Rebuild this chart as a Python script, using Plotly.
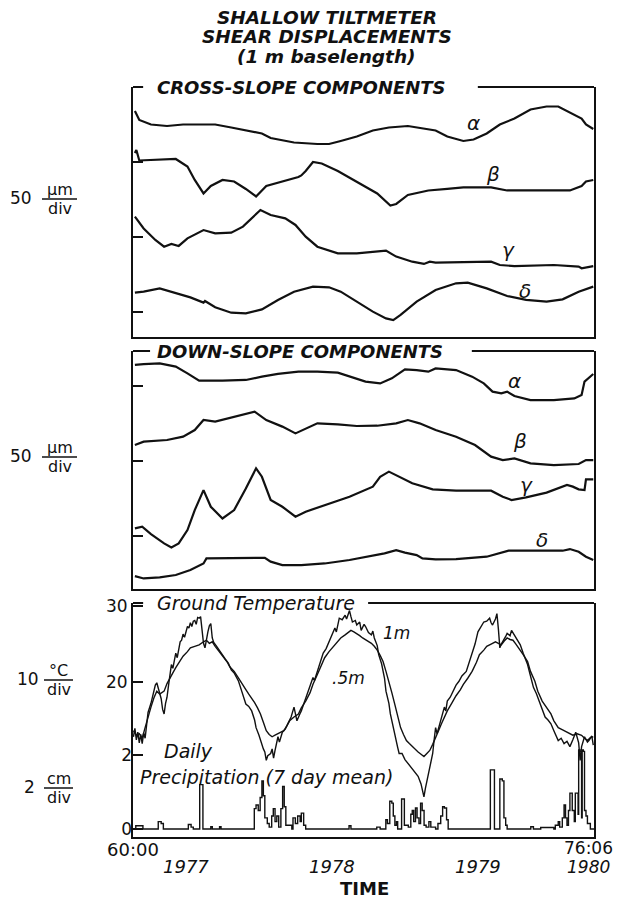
import plotly.graph_objects as go

# ---------------- data ----------------
T_START, T_END = 1976.637, 1979.795

# Cross-slope components (um, offset traces)
cs_alpha_t = [1976.65, 1976.68, 1976.76, 1976.87, 1976.98, 1977.09, 1977.20, 1977.31, 1977.41, 1977.52, 1977.58, 1977.63, 1977.74, 1977.90, 1977.98, 1978.06, 1978.17, 1978.28, 1978.39, 1978.52, 1978.66, 1978.71, 1978.79, 1978.90, 1978.97, 1979.06, 1979.15, 1979.25, 1979.36, 1979.47, 1979.55, 1979.63, 1979.71, 1979.74, 1979.79]
cs_alpha_v = [134, 128, 125, 124, 125, 125, 125, 123, 121, 119, 116, 115, 113, 112, 112, 114, 117, 121, 123, 124, 122, 121, 117, 114, 115, 119, 125, 129, 135, 137, 137, 133, 129, 125, 122]

cs_beta_t = [1976.65, 1976.66, 1976.68, 1976.93, 1977.01, 1977.06, 1977.12, 1977.17, 1977.25, 1977.33, 1977.41, 1977.48, 1977.55, 1977.63, 1977.77, 1977.79, 1977.82, 1977.87, 1977.93, 1978.04, 1978.17, 1978.31, 1978.40, 1978.44, 1978.52, 1978.66, 1978.79, 1978.90, 1979.09, 1979.20, 1979.39, 1979.63, 1979.71, 1979.74, 1979.79]
cs_beta_v = [106, 108, 101, 102, 97, 88, 79, 84, 88, 87, 82, 77, 84, 86, 90, 91, 94, 100, 99, 94, 87, 79, 71, 72, 78, 81, 82, 83, 83, 81, 81, 81, 84, 87, 88]

cs_gamma_t = [1976.65, 1976.71, 1976.79, 1976.85, 1976.90, 1976.95, 1977.01, 1977.12, 1977.20, 1977.31, 1977.39, 1977.47, 1977.51, 1977.58, 1977.68, 1977.75, 1977.82, 1977.90, 1978.04, 1978.17, 1978.31, 1978.37, 1978.44, 1978.55, 1978.63, 1978.67, 1978.71, 1978.85, 1979.09, 1979.15, 1979.25, 1979.52, 1979.69, 1979.71, 1979.79]
cs_gamma_v = [63.5, 55.7, 48, 43.5, 45.3, 44, 49.1, 54.6, 52.4, 52.9, 56.9, 64.6, 68, 64.6, 62.4, 58, 50.2, 43.5, 39.1, 39.1, 40.2, 40.9, 36.9, 33.5, 32, 33.5, 32.9, 33.1, 33.5, 31.3, 30.6, 31.3, 30.2, 29.1, 30.6]

cs_delta_t = [1976.65, 1976.71, 1976.82, 1976.90, 1977.03, 1977.12, 1977.13, 1977.20, 1977.31, 1977.41, 1977.52, 1977.63, 1977.74, 1977.87, 1977.98, 1978.06, 1978.17, 1978.28, 1978.37, 1978.42, 1978.47, 1978.58, 1978.71, 1978.85, 1978.93, 1979.06, 1979.20, 1979.33, 1979.47, 1979.58, 1979.69, 1979.79]
cs_delta_v = [12.9, 13.5, 15.7, 13.5, 9.7, 6.2, 7.3, 3.1, -0.5, -0.9, 1.7, 8, 13.5, 16.9, 16.4, 13.5, 6.9, 0.2, -4.3, -5.4, -2, 6.9, 14.6, 19.1, 19.5, 15.7, 10.6, 8, 6.9, 8.4, 13.5, 16.9]

# Down-slope components
ds_alpha_t = [1976.65, 1976.71, 1976.82, 1976.93, 1977.01, 1977.09, 1977.25, 1977.41, 1977.52, 1977.63, 1977.77, 1977.90, 1978.04, 1978.12, 1978.23, 1978.33, 1978.41, 1978.50, 1978.58, 1978.66, 1978.71, 1978.85, 1978.96, 1979.04, 1979.10, 1979.16, 1979.20, 1979.25, 1979.36, 1979.52, 1979.66, 1979.71, 1979.73, 1979.79]
ds_alpha_v = [114, 114.6, 115.1, 112.9, 108.4, 103.5, 103.5, 104, 106.2, 108, 109.5, 109.5, 108.9, 106.2, 102.9, 101.7, 105.1, 111.1, 110.6, 109.5, 111.7, 110.6, 106.2, 101.7, 96.2, 95.1, 96.2, 93.3, 90.6, 90.6, 91.7, 94, 102.9, 108]

ds_beta_t = [1976.65, 1976.71, 1976.87, 1976.98, 1977.06, 1977.12, 1977.20, 1977.31, 1977.47, 1977.55, 1977.66, 1977.75, 1977.82, 1977.90, 1978.04, 1978.17, 1978.31, 1978.44, 1978.52, 1978.60, 1978.71, 1978.85, 1978.98, 1979.09, 1979.17, 1979.25, 1979.36, 1979.52, 1979.69, 1979.74, 1979.79]
ds_beta_v = [60.6, 62.9, 64, 66.2, 70.6, 77.3, 76.2, 79.1, 82.9, 77.3, 72.9, 68.4, 71.7, 75.1, 74.4, 73.3, 73.5, 75.1, 77.3, 75.1, 70.6, 66.2, 60.6, 52.9, 50.6, 51.7, 48.4, 47.3, 48, 50.6, 50.6]

ds_gamma_t = [1976.65, 1976.70, 1976.76, 1976.85, 1976.90, 1976.95, 1977.01, 1977.06, 1977.12, 1977.17, 1977.25, 1977.33, 1977.41, 1977.48, 1977.52, 1977.58, 1977.66, 1977.75, 1977.82, 1977.95, 1978.12, 1978.28, 1978.33, 1978.39, 1978.44, 1978.55, 1978.69, 1978.85, 1979.09, 1979.17, 1979.23, 1979.33, 1979.47, 1979.61, 1979.65, 1979.69, 1979.73, 1979.74, 1979.79]
ds_gamma_v = [5.1, 6.2, 1.3, -4.9, -7.6, -4.9, 4, 17.3, 30.6, 19.5, 11.7, 17.3, 31.7, 45.1, 39.5, 24, 19.5, 12.9, 16.2, 20.6, 26.2, 32.9, 39.5, 42.9, 40.6, 35.1, 31.1, 30.2, 30.2, 26.2, 24, 25.8, 28.9, 34, 32.9, 31.1, 30.6, 37.7, 37.7]

ds_delta_t = [1976.65, 1976.71, 1976.82, 1976.93, 1977.03, 1977.12, 1977.14, 1977.25, 1977.36, 1977.54, 1977.58, 1977.66, 1977.79, 1977.95, 1978.12, 1978.28, 1978.36, 1978.44, 1978.50, 1978.58, 1978.62, 1978.71, 1978.85, 1979.06, 1979.15, 1979.21, 1979.39, 1979.58, 1979.63, 1979.69, 1979.74, 1979.79]
ds_delta_v = [-26.7, -28.3, -27.6, -26, -22.7, -18.3, -14.9, -14.9, -14.9, -14.5, -17.1, -19.4, -19.4, -18.3, -16, -13.4, -11.6, -9.4, -11.1, -12.7, -14.9, -15.6, -15.4, -13.8, -11.6, -9.8, -9.8, -9.8, -8.7, -10.5, -13.8, -16]

# Ground temperature (deg C)
temp_a_t = [1976.64, 1976.65, 1976.66, 1976.67, 1976.68, 1976.69, 1976.70, 1976.71, 1976.72, 1976.73, 1976.74, 1976.76, 1976.77, 1976.78, 1976.79, 1976.80, 1976.81, 1976.82, 1976.83, 1976.84, 1976.85, 1976.86, 1976.87, 1976.88, 1976.89, 1976.90, 1976.91, 1976.92, 1976.93, 1976.94, 1976.95, 1976.96, 1976.97, 1976.98, 1976.99, 1977.00, 1977.01, 1977.02, 1977.03, 1977.04, 1977.05, 1977.06, 1977.07, 1977.08, 1977.09, 1977.10, 1977.11, 1977.12, 1977.13, 1977.14, 1977.15, 1977.16, 1977.17, 1977.18, 1977.19, 1977.21, 1977.23, 1977.25, 1977.27, 1977.29, 1977.31, 1977.33, 1977.35, 1977.36, 1977.38, 1977.39, 1977.40, 1977.41, 1977.43, 1977.45, 1977.47, 1977.48, 1977.50, 1977.51, 1977.53, 1977.54, 1977.55, 1977.56, 1977.58, 1977.59, 1977.60, 1977.61, 1977.63, 1977.64, 1977.66, 1977.68, 1977.70, 1977.72, 1977.74, 1977.75, 1977.76, 1977.78, 1977.79, 1977.81, 1977.83, 1977.85, 1977.87, 1977.88, 1977.90, 1977.92, 1977.94, 1977.96, 1977.98, 1978.00, 1978.02, 1978.03, 1978.05, 1978.07, 1978.09, 1978.10, 1978.12, 1978.13, 1978.14, 1978.16, 1978.17, 1978.19, 1978.20, 1978.22, 1978.23, 1978.25, 1978.27, 1978.28, 1978.29, 1978.31, 1978.32, 1978.34, 1978.35, 1978.36, 1978.37, 1978.39, 1978.40, 1978.42, 1978.43, 1978.45, 1978.46, 1978.48, 1978.50, 1978.52, 1978.54, 1978.56, 1978.58, 1978.59, 1978.61, 1978.62, 1978.63, 1978.64, 1978.66, 1978.67, 1978.69, 1978.70, 1978.71, 1978.72, 1978.74, 1978.75, 1978.77, 1978.78, 1978.79, 1978.81, 1978.83, 1978.85, 1978.87, 1978.89, 1978.92, 1978.94, 1978.96, 1978.98, 1979.00, 1979.02, 1979.04, 1979.06, 1979.08, 1979.09, 1979.10, 1979.12, 1979.13, 1979.14, 1979.15, 1979.16, 1979.17, 1979.19, 1979.20, 1979.22, 1979.23, 1979.25, 1979.27, 1979.29, 1979.31, 1979.34, 1979.36, 1979.38, 1979.40, 1979.42, 1979.44, 1979.46, 1979.48, 1979.50, 1979.52, 1979.55, 1979.57, 1979.59, 1979.61, 1979.63, 1979.65, 1979.67, 1979.69, 1979.70, 1979.71, 1979.73, 1979.75, 1979.76, 1979.78, 1979.79]
temp_a_v = [12.8, 13.9, 12.4, 13.4, 12.0, 13.1, 11.9, 13.3, 12.6, 14.8, 16.0, 17.2, 17.9, 18.8, 19.6, 19.9, 19.2, 18.6, 17.8, 16.4, 15.8, 17.2, 18.0, 19.5, 21.0, 22.3, 21.8, 23.1, 23.8, 23.2, 24.6, 25.3, 25.5, 26.3, 25.9, 26.8, 27.3, 27.1, 27.8, 27.3, 28.0, 28.1, 27.6, 28.5, 28.4, 28.6, 26.5, 25.1, 24.5, 25.8, 26.6, 27.4, 27.7, 25.8, 25.2, 24.7, 24.1, 23.6, 23.0, 22.5, 21.6, 21.2, 20.4, 20.1, 18.9, 18.2, 17.8, 17.1, 16.8, 16.2, 15.0, 14.0, 13.0, 12.3, 11.2, 10.8, 9.7, 10.3, 10.6, 11.2, 10.0, 11.0, 12.8, 12.1, 13.4, 13.8, 14.5, 15.4, 16.7, 15.6, 14.9, 15.8, 16.2, 17.3, 18.4, 19.5, 20.6, 20.2, 21.4, 22.6, 23.8, 24.4, 25.3, 26.0, 27.1, 26.6, 28.4, 28.2, 28.8, 28.3, 29.4, 28.6, 27.9, 28.1, 27.5, 27.9, 26.8, 27.6, 27.3, 26.5, 26.2, 26.7, 25.8, 24.8, 23.6, 22.4, 21.4, 20.5, 18.8, 17.2, 15.8, 14.0, 12.8, 11.4, 10.6, 10.6, 9.8, 9.3, 8.9, 8.4, 7.9, 7.6, 6.6, 5.8, 4.9, 6.0, 8.0, 9.0, 10.6, 12.4, 14.0, 13.2, 14.5, 15.4, 16.7, 16.2, 17.5, 18.0, 18.8, 19.6, 20.1, 20.8, 21.4, 22.6, 23.6, 25.0, 26.6, 27.2, 27.9, 28.0, 28.4, 27.8, 27.5, 28.3, 29.0, 27.0, 24.5, 25.0, 25.3, 26.0, 26.4, 26.1, 26.8, 26.2, 25.5, 24.9, 23.8, 22.3, 20.8, 19.3, 18.5, 17.5, 16.4, 15.4, 15.0, 14.5, 13.6, 12.3, 12.6, 11.9, 12.2, 11.5, 12.4, 13.4, 12.0, 9.7, 11.5, 12.8, 12.1, 12.3, 12.9, 11.7]

temp_b_t = [1976.64, 1976.66, 1976.68, 1976.70, 1976.72, 1976.74, 1976.76, 1976.78, 1976.80, 1976.82, 1976.85, 1976.87, 1976.89, 1976.91, 1976.93, 1976.96, 1976.98, 1977.01, 1977.03, 1977.06, 1977.09, 1977.12, 1977.14, 1977.16, 1977.18, 1977.20, 1977.22, 1977.25, 1977.28, 1977.30, 1977.33, 1977.36, 1977.39, 1977.41, 1977.43, 1977.45, 1977.47, 1977.49, 1977.51, 1977.53, 1977.55, 1977.57, 1977.59, 1977.61, 1977.63, 1977.65, 1977.67, 1977.69, 1977.71, 1977.74, 1977.77, 1977.79, 1977.82, 1977.85, 1977.87, 1977.90, 1977.93, 1977.95, 1977.98, 1978.01, 1978.04, 1978.06, 1978.09, 1978.11, 1978.13, 1978.15, 1978.17, 1978.19, 1978.21, 1978.24, 1978.27, 1978.29, 1978.31, 1978.33, 1978.35, 1978.37, 1978.39, 1978.41, 1978.43, 1978.45, 1978.47, 1978.49, 1978.51, 1978.53, 1978.55, 1978.57, 1978.59, 1978.61, 1978.63, 1978.65, 1978.67, 1978.69, 1978.71, 1978.73, 1978.75, 1978.77, 1978.79, 1978.82, 1978.85, 1978.88, 1978.90, 1978.93, 1978.96, 1978.99, 1979.01, 1979.04, 1979.06, 1979.09, 1979.12, 1979.14, 1979.16, 1979.18, 1979.20, 1979.22, 1979.24, 1979.26, 1979.28, 1979.31, 1979.34, 1979.36, 1979.39, 1979.41, 1979.44, 1979.47, 1979.50, 1979.52, 1979.55, 1979.58, 1979.61, 1979.63, 1979.65, 1979.68, 1979.71, 1979.73, 1979.75, 1979.77, 1979.79]
temp_b_v = [13.6, 13.0, 13.2, 12.6, 14.0, 15.5, 16.7, 17.9, 18.8, 18.4, 18.8, 19.8, 20.6, 21.2, 21.9, 22.8, 23.4, 24.0, 24.5, 24.7, 24.9, 25.3, 25.5, 25.1, 25.3, 24.7, 24.2, 23.4, 22.7, 22.0, 21.4, 20.5, 19.7, 19.0, 18.4, 17.9, 17.3, 16.6, 15.8, 14.7, 13.6, 13.1, 12.8, 13.0, 13.2, 13.5, 13.6, 14.2, 14.9, 15.4, 15.8, 16.6, 17.5, 18.6, 19.7, 21.0, 22.3, 23.2, 24.0, 24.7, 25.3, 25.8, 26.2, 26.5, 26.8, 26.6, 26.4, 26.1, 25.8, 25.5, 25.1, 24.7, 24.2, 23.5, 22.7, 21.4, 20.1, 18.6, 17.1, 15.5, 14.0, 13.1, 12.3, 11.9, 11.5, 11.1, 10.8, 10.5, 10.2, 10.6, 11.0, 11.8, 12.6, 13.6, 14.5, 15.4, 16.2, 17.2, 18.2, 19.0, 19.7, 20.5, 21.4, 22.6, 23.6, 24.2, 24.7, 25.0, 25.3, 25.1, 24.9, 25.4, 25.8, 25.6, 25.5, 25.0, 24.5, 23.6, 22.7, 21.4, 20.1, 18.8, 17.5, 16.6, 15.8, 14.9, 14.0, 13.7, 13.4, 13.2, 13.0, 13.2, 13.0, 12.6, 12.3, 12.7, 12.8]

# Daily precipitation, 7 day mean (cm)
precip_t = [1976.637, 1976.65, 1976.656, 1976.697, 1976.705, 1976.805, 1976.81, 1976.83, 1976.845, 1977.008, 1977.016, 1977.035, 1977.05, 1977.089, 1977.094, 1977.11, 1977.116, 1977.165, 1977.17, 1977.18, 1977.23, 1977.24, 1977.454, 1977.468, 1977.48, 1977.495, 1977.508, 1977.52, 1977.53, 1977.54, 1977.557, 1977.57, 1977.587, 1977.598, 1977.61, 1977.622, 1977.635, 1977.65, 1977.662, 1977.673, 1977.684, 1977.725, 1977.733, 1977.749, 1977.765, 1977.782, 1977.79, 1977.806, 1977.82, 1978.112, 1978.117, 1978.13, 1978.30, 1978.307, 1978.33, 1978.36, 1978.369, 1978.38, 1978.396, 1978.41, 1978.42, 1978.431, 1978.442, 1978.45, 1978.47, 1978.477, 1978.49, 1978.496, 1978.523, 1978.54, 1978.55, 1978.56, 1978.572, 1978.583, 1978.596, 1978.607, 1978.618, 1978.631, 1978.645, 1978.664, 1978.677, 1978.71, 1978.726, 1978.745, 1978.758, 1978.77, 1978.785, 1978.796, 1979.08, 1979.085, 1979.107, 1979.113, 1979.14, 1979.15, 1979.167, 1979.178, 1979.19, 1979.20, 1979.357, 1979.362, 1979.38, 1979.42, 1979.43, 1979.52, 1979.53, 1979.55, 1979.56, 1979.578, 1979.59, 1979.60, 1979.61, 1979.62, 1979.63, 1979.646, 1979.66, 1979.667, 1979.68, 1979.686, 1979.69, 1979.70, 1979.71, 1979.714, 1979.722, 1979.73, 1979.74, 1979.75, 1979.77, 1979.795]
precip_v = [0, 0, 0.09, 0.09, 0, 0, 0.2, 0.15, 0, 0, 0.12, 0.05, 0, 0, 1.2, 1.2, 0, 0, 0.06, 0, 0.06, 0, 0, 0.55, 0.65, 0.5, 0.85, 1.3, 0.9, 0.3, 0.15, 0.05, 0.35, 0.55, 0.2, 0.35, 0.05, 0.55, 1.15, 0.6, 0.1, 0, 0.3, 0.15, 0.35, 0.2, 0.43, 0.1, 0, 0, 0.09, 0, 0, 0.05, 0, 0, 0.25, 0.15, 0.75, 0.7, 0.35, 0.1, 0.2, 0, 0, 0.81, 0.81, 0.1, 0.05, 0.4, 0.5, 0.2, 0.57, 0.3, 0.15, 0.7, 0.5, 0.1, 0.05, 0.2, 0.05, 0, 0.15, 0.35, 0.6, 0.57, 0.25, 0, 0, 1.6, 1.6, 0, 0, 1.35, 1.3, 0.3, 0.1, 0, 0, 0.06, 0, 0, 0.04, 0, 0.1, 0.2, 0.05, 0.3, 0.65, 0.3, 0.1, 0.5, 0.97, 0.5, 0.2, 0.97, 0.97, 0.4, 2.14, 2.1, 0.3, 2.14, 2.1, 0.5, 0.35, 0.15, 0, 0]

disp_ticks = [0, 50, 100]
temp_ticks = [20, 30]
temp_tick_text = ["20", "30"]
precip_ticks = [0, 2]
precip_tick_text = ["0", "2"]
time_marks = [1977.47, 1978.50, 1979.54]
year_labels = ["1977", "1978", "1979"]
year_pos = [1977.0, 1978.0, 1979.0]
start_label, end_label, end_year = "60:00", "76:06", "1980"

cs_labels = [("α", 1978.97, 126), ("β", 1979.10, 92), ("γ", 1979.21, 41), ("δ", 1979.32, 14)]
ds_labels = [("α", 1979.25, 103), ("β", 1979.29, 63), ("γ", 1979.33, 34), ("δ", 1979.44, -2.7)]

# ---------------- figure ----------------
FONT = "DejaVu Sans"
INK = "#111111"
fig = go.Figure()

def line(x, y, xa, ya, w=2.2, shape="linear"):
    fig.add_trace(go.Scatter(x=x, y=y, xaxis=xa, yaxis=ya, mode="lines",
                             line=dict(color=INK, width=w, shape=shape),
                             showlegend=False, hoverinfo="skip"))

for t, v in [(cs_alpha_t, cs_alpha_v), (cs_beta_t, cs_beta_v), (cs_gamma_t, cs_gamma_v), (cs_delta_t, cs_delta_v)]:
    line(t, v, "x", "y")
for t, v in [(ds_alpha_t, ds_alpha_v), (ds_beta_t, ds_beta_v), (ds_gamma_t, ds_gamma_v), (ds_delta_t, ds_delta_v)]:
    line(t, v, "x2", "y2")
line(temp_a_t, temp_a_v, "x3", "y3", w=1.4)
line(temp_b_t, temp_b_v, "x3", "y3", w=1.4)
line(precip_t, precip_v, "x3", "y4", w=1.4, shape="hv")

xcommon = dict(range=[T_START, T_END], showgrid=False, zeroline=False, showline=True,
               linecolor=INK, linewidth=2, showticklabels=False, ticks="")
ycommon = dict(showgrid=False, zeroline=False, showline=True, mirror=True,
               linecolor=INK, linewidth=2, ticks="inside", ticklen=10, tickwidth=2,
               tickcolor=INK)

# the page adds an 8px body margin; the figure is sized so nothing overflows
# and the plot area sits at page x 133..594, page y 87..837
fig.update_layout(
    width=605, height=891, paper_bgcolor="white", plot_bgcolor="white",
    margin=dict(l=125, r=19, t=79, b=62),
    font=dict(family=FONT, color=INK),
    xaxis=dict(**xcommon, domain=[0, 1], anchor="y"),
    xaxis2=dict(**xcommon, domain=[0, 1], anchor="y2"),
    xaxis3=dict(**xcommon, domain=[0, 1], anchor="y3"),
    xaxis4=dict(range=[T_START, T_END], overlaying="x3", anchor="y3", showgrid=False,
                zeroline=False, showline=False, tickvals=time_marks, ticks="inside",
                ticklen=7, tickwidth=1.5, tickcolor=INK, showticklabels=False),
    yaxis=dict(**ycommon, domain=[0.6667, 1.0], range=[-16.7, 150], tickvals=disp_ticks,
               showticklabels=False, anchor="x"),
    yaxis2=dict(**ycommon, domain=[0.3307, 0.648], range=[-35.3, 123.3], tickvals=disp_ticks,
                showticklabels=False, anchor="x2"),
    yaxis3=dict(**ycommon, domain=[0.0, 0.312], range=[-0.39, 30.4], tickvals=temp_ticks,
                ticktext=temp_tick_text, anchor="x3", tickfont=dict(size=17)),
    yaxis4=dict(showgrid=False, zeroline=False, showline=False, overlaying="y3", side="left",
                anchor="x3", range=[-0.216, 6.11], tickvals=precip_ticks, ticktext=precip_tick_text,
                ticks="inside", ticklen=10, tickwidth=2, tickcolor=INK, tickfont=dict(size=17)),
)

# top borders broken by panel headings
def top_segments(xr, yr, a, b):
    for x0, x1 in [(0, a), (b, 1)]:
        fig.add_shape(type="line", xref=xr, yref=yr, x0=x0, x1=x1, y0=1, y1=1,
                      line=dict(color=INK, width=2))

top_segments("x domain", "y domain", 0.022, 0.748)
top_segments("x2 domain", "y2 domain", 0.037, 0.735)
top_segments("x3 domain", "y3 domain", 0.022, 0.51)

def note(text, x, y, xref, yref, font, xshift=0):
    fig.add_annotation(text=text, x=x, y=y, xref=xref, yref=yref, showarrow=False,
                       xanchor="center", yanchor="middle", font=font, xshift=xshift)

head_font = dict(family=FONT, size=18, style="italic", weight="bold", color=INK)
fig.add_annotation(text="CROSS-SLOPE COMPONENTS", xref="x domain", yref="y domain", x=0.047, y=1.0,
                   xanchor="left", yanchor="middle", showarrow=False, font=head_font)
fig.add_annotation(text="DOWN-SLOPE COMPONENTS", xref="x2 domain", yref="y2 domain", x=0.047, y=1.0,
                   xanchor="left", yanchor="middle", showarrow=False, font=head_font)
fig.add_annotation(text="Ground Temperature", xref="x3 domain", yref="y3 domain", x=0.047, y=1.0,
                   xanchor="left", yanchor="middle", showarrow=False,
                   font=dict(family=FONT, size=19, style="italic", color=INK))

# title
title_font = dict(family=FONT, size=18.5, style="italic", weight="bold", color=INK)
for txt, yy in [("SHALLOW TILTMETER", 1.093), ("SHEAR DISPLACEMENTS", 1.0667), ("(1 m baselength)", 1.040)]:
    note(txt, 0.42, yy, "paper", "paper", title_font)

# greek trace labels
gk = dict(family=FONT, size=20, style="italic", color=INK)
for g, xx, yy in cs_labels:
    note(g, xx, yy, "x", "y", gk)
for g, xx, yy in ds_labels:
    note(g, xx, yy, "x2", "y2", gk)

it = dict(family=FONT, size=17, style="italic", color=INK)
note("1m", 1978.44, 26.4, "x3", "y3", it)
note(".5m", 1978.11, 20.5, "x3", "y3", it)
it19 = dict(family=FONT, size=19, style="italic", color=INK)
note("Daily", 1977.02, 2.1, "x3", "y4", it19)
note("Precipitation (7 day mean)", 1977.55, 1.4, "x3", "y4", it19)

# time axis labels
up = dict(family=FONT, size=18, color=INK)
it18 = dict(family=FONT, size=18, style="italic", color=INK)
note(start_label, T_START, -0.0160, "x3", "paper", up)
note(end_label, T_END, -0.0147, "x3", "paper", dict(family=FONT, size=17, color=INK), xshift=-6)
for lab, xx in zip(year_labels, year_pos):
    note(lab, xx, -0.0387, "x3", "paper", it18)
note(end_year, T_END, -0.0400, "x3", "paper", dict(family=FONT, size=17, style="italic", color=INK), xshift=-6)
note("TIME", 0.503, -0.0680, "paper", "paper", dict(family=FONT, size=18, weight="bold", color=INK))

# unit labels on the left (number + stacked fraction)
def px_x(px):
    return (px - 133) / 461.0

def px_y(py):
    return (837 - py) / 750.0

def unit_label(num, numx, top, bottom, cy, fx0, fx1):
    note(num, px_x(numx), px_y(cy), "paper", "paper", dict(family=FONT, size=17, color=INK))
    fc = (fx0 + fx1) / 2
    note(top, px_x(fc), px_y(cy - 9), "paper", "paper", dict(family=FONT, size=16, color=INK))
    note(bottom, px_x(fc), px_y(cy + 10), "paper", "paper", dict(family=FONT, size=16, color=INK))
    fig.add_shape(type="line", xref="paper", yref="paper", x0=px_x(fx0), x1=px_x(fx1),
                  y0=px_y(cy + 1), y1=px_y(cy + 1), line=dict(color=INK, width=1.5))

unit_label("50", 21, "μm", "div", 198, 42, 77)
unit_label("50", 21, "μm", "div", 456, 42, 77)
unit_label("10", 28, "°C", "div", 679, 44, 73)
unit_label("2", 29, "cm", "div", 787, 44, 73)

fig.write_html("out.html")
